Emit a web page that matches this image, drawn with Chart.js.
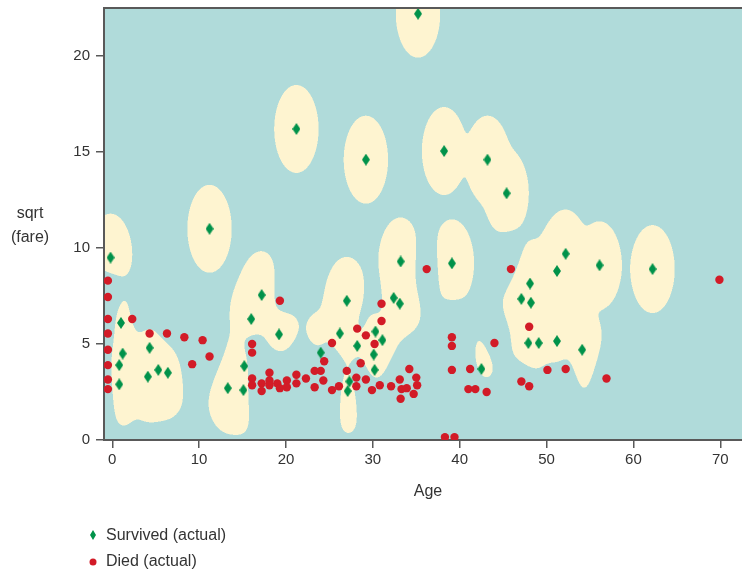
<!DOCTYPE html>
<html>
<head>
<meta charset="utf-8">
<script src="https://cdn.jsdelivr.net/npm/chart.js@4.4.1/dist/chart.umd.min.js"></script>
<style>
  html, body { margin: 0; padding: 0; background: #fff; overflow: hidden; }
</style>
</head>
<body>
<canvas id="chart" width="742" height="572"></canvas>
<script>
// passengers that survived: age, sqrt(fare)
const survivedAge = [-0.2, 11.2, 21.2, 1.0, 1.2, 0.8, 0.8, 4.3, 4.1, 5.3, 6.4,
  17.2, 16.0, 19.2, 15.2, 13.3, 15.1, 27.0, 26.2, 24.0, 28.2, 27.3, 27.1,
  33.2, 32.4, 33.1, 30.3, 31.1, 30.1, 30.2, 39.1, 42.5, 35.2, 29.2, 38.2, 43.2, 45.4,
  52.2, 56.1, 51.2, 48.1, 47.1, 48.2, 47.9, 49.1, 51.2, 54.1, 62.2];
const survivedFare = [9.5, 11.0, 16.2, 6.1, 4.5, 3.9, 2.9, 4.8, 3.3, 3.65, 3.5,
  7.55, 6.3, 5.5, 3.85, 2.7, 2.6, 7.25, 5.55, 4.55, 4.9, 3.05, 2.55,
  9.3, 7.4, 7.1, 5.65, 5.2, 4.45, 3.65, 9.2, 3.7, 22.2, 14.6, 15.05, 14.6, 12.85,
  9.7, 9.1, 8.8, 8.15, 7.35, 7.15, 5.05, 5.05, 5.15, 4.7, 8.9];

// passengers that died
const diedAge = [-0.5, -0.5, -0.5, -0.5, -0.5, -0.5, -0.5, -0.5,
  2.3, 4.3, 6.3, 8.3, 10.4, 11.2, 9.2,
  19.3, 16.1, 16.1, 16.1, 16.1, 17.2, 17.2, 18.1, 18.1, 18.1, 19.0, 19.3, 20.1, 20.1, 21.2, 21.2, 22.3, 23.3, 23.3,
  24.0, 24.3, 24.4, 25.3, 25.3, 26.1, 27.0, 28.2, 29.2, 30.2, 31.0, 31.0, 28.6, 28.1, 28.1, 29.2, 29.9, 30.8,
  32.1, 33.1, 33.3, 33.2, 33.9, 34.2, 35.0, 35.1, 34.7, 36.2, 39.1, 39.1, 39.1, 38.3, 39.4,
  41.2, 41.0, 41.8, 43.1, 44.0, 45.9, 48.0, 50.1, 52.2, 47.1, 48.0, 56.9, 69.9];
const diedFare = [8.3, 7.45, 6.3, 5.55, 4.7, 3.9, 3.15, 2.65,
  6.3, 5.55, 5.55, 5.35, 5.2, 4.35, 3.95,
  7.25, 5.0, 4.55, 3.2, 2.85, 2.95, 2.55, 3.5, 3.1, 2.85, 2.95, 2.7, 3.1, 2.75, 3.4, 2.95, 3.2, 3.6, 2.75,
  3.6, 3.1, 4.1, 5.05, 2.6, 2.8, 3.6, 5.8, 5.45, 5.0, 7.1, 6.2, 4.0, 3.25, 2.8, 3.15, 2.6, 2.85,
  2.8, 3.15, 2.65, 2.15, 2.7, 3.7, 3.25, 2.85, 2.4, 8.9, 5.35, 4.9, 3.65, 0.15, 0.15,
  3.7, 2.65, 2.65, 2.5, 5.05, 8.9, 5.9, 3.65, 3.7, 3.05, 2.8, 3.2, 8.35];

const xTicks = [0, 10, 20, 30, 40, 50, 60, 70];
const yTicks = [0, 5, 10, 15, 20];

// kernel classifier used for the shaded "survived" regions
const KX = 1.45, KY = 1.3, DIED_W = 0.5, THRESH = 0.045;

const TEAL = '#b0dbda', CREAM = [254, 244, 208];
const GREEN = '#00924a', RED = '#d21b27', AXIS = '#595959', TEXT = '#333333';
const FONT = '"Liberation Sans", Arial, sans-serif';

function diamond(w, h, color) {
  const c = document.createElement('canvas');
  c.width = w; c.height = h;
  const g = c.getContext('2d');
  g.fillStyle = color;
  g.beginPath();
  g.moveTo(w / 2, 0); g.lineTo(w, h / 2); g.lineTo(w / 2, h); g.lineTo(0, h / 2);
  g.closePath(); g.fill();
  return c;
}
const diamondPt = diamond(8, 12, GREEN);
const diamondLegend = diamond(6, 10, GREEN);

let regionCache = null;
function buildRegions(chart) {
  const a = chart.chartArea, xs = chart.scales.x, ys = chart.scales.y;
  const S = 2;
  const w = Math.round(a.right - a.left) * S, h = Math.round(a.bottom - a.top) * S;
  const ns = survivedAge.length, nd = diedAge.length;
  // separable gaussian: precompute per column / per row factors
  const colS = new Float32Array(w * ns), colD = new Float32Array(w * nd);
  for (let i = 0; i < w; i++) {
    const ax = xs.getValueForPixel(a.left + (i + 0.5) / S);
    for (let k = 0; k < ns; k++) { const d = (ax - survivedAge[k]) / KX; colS[i * ns + k] = Math.exp(-d * d); }
    for (let k = 0; k < nd; k++) { const d = (ax - diedAge[k]) / KX; colD[i * nd + k] = Math.exp(-d * d) * DIED_W; }
  }
  const rowS = new Float32Array(ns), rowD = new Float32Array(nd);
  const off = document.createElement('canvas');
  off.width = w; off.height = h;
  const g = off.getContext('2d');
  const img = g.createImageData(w, h);
  for (let j = 0; j < h; j++) {
    const fy = ys.getValueForPixel(a.top + (j + 0.5) / S);
    for (let k = 0; k < ns; k++) { const d = (fy - survivedFare[k]) / KY; rowS[k] = Math.exp(-d * d); }
    for (let k = 0; k < nd; k++) { const d = (fy - diedFare[k]) / KY; rowD[k] = Math.exp(-d * d); }
    for (let i = 0; i < w; i++) {
      let f = -THRESH;
      const bs = i * ns, bd = i * nd;
      for (let k = 0; k < ns; k++) f += colS[bs + k] * rowS[k];
      for (let k = 0; k < nd; k++) f -= colD[bd + k] * rowD[k];
      if (f > 0) {
        const p = (j * w + i) * 4;
        img.data[p] = CREAM[0]; img.data[p + 1] = CREAM[1]; img.data[p + 2] = CREAM[2]; img.data[p + 3] = 255;
      }
    }
  }
  g.putImageData(img, 0, 0);
  return off;
}

const decorPlugin = {
  id: 'decor',
  beforeDraw(chart) {
    const { ctx, chartArea: a } = chart;
    ctx.save();
    ctx.fillStyle = TEAL;
    ctx.fillRect(a.left, a.top, a.right - a.left, a.bottom - a.top);
    if (!regionCache) regionCache = buildRegions(chart);
    ctx.imageSmoothingEnabled = true;
    ctx.imageSmoothingQuality = 'high';
    ctx.drawImage(regionCache, a.left, a.top, a.right - a.left, a.bottom - a.top);
    ctx.restore();
  },
  afterDraw(chart) {
    const { ctx, chartArea: a } = chart;
    ctx.save();
    // top frame line
    ctx.strokeStyle = AXIS;
    ctx.lineWidth = 2;
    ctx.beginPath();
    ctx.moveTo(a.left - 1, a.top);
    ctx.lineTo(a.right, a.top);
    ctx.stroke();

    ctx.fillStyle = TEXT;
    ctx.font = '16px ' + FONT;
    ctx.textAlign = 'center';
    ctx.textBaseline = 'middle';
    ctx.fillText('sqrt', 30, 214);
    ctx.fillText('(fare)', 30, 238);
    ctx.fillText('Age', 428, 492);

    // legend
    ctx.textAlign = 'left';
    ctx.drawImage(diamondLegend, 93 - 3, 535 - 5);
    ctx.fillText('Survived (actual)', 106, 536);
    ctx.fillStyle = RED;
    ctx.beginPath();
    ctx.arc(93, 562, 3.5, 0, Math.PI * 2);
    ctx.fill();
    ctx.fillStyle = TEXT;
    ctx.fillText('Died (actual)', 106, 562);
    ctx.restore();
  }
};

const toPoints = (xs, ys) => xs.map((v, i) => ({ x: v, y: ys[i] }));

new Chart(document.getElementById('chart'), {
  type: 'scatter',
  data: {
    datasets: [
      {
        label: 'Died (actual)',
        data: toPoints(diedAge, diedFare),
        pointStyle: 'circle',
        pointRadius: 4.2,
        pointHoverRadius: 4.2,
        backgroundColor: RED,
        borderWidth: 0
      },
      {
        label: 'Survived (actual)',
        data: toPoints(survivedAge, survivedFare),
        pointStyle: diamondPt,
        pointRadius: 5,
        backgroundColor: GREEN,
        borderWidth: 0
      }
    ]
  },
  options: {
    responsive: false,
    animation: false,
    events: [],
    layout: { autoPadding: false, padding: { top: 8, right: 0, bottom: 0, left: 0 } },
    plugins: {
      legend: { display: false },
      tooltip: { enabled: false }
    },
    scales: {
      x: {
        type: 'linear',
        min: -0.95,
        max: 72.5,
        afterBuildTicks: s => { s.ticks = xTicks.map(v => ({ value: v })); },
        afterFit: s => { s.height = 132; s.paddingLeft = 0; s.paddingRight = 0; },
        grid: { drawOnChartArea: false, color: AXIS, lineWidth: 1.5, tickLength: 8 },
        border: { color: AXIS, width: 2 },
        ticks: { color: TEXT, font: { family: FONT, size: 15 }, padding: 3, maxRotation: 0 }
      },
      y: {
        type: 'linear',
        min: 0,
        max: 22.5,
        afterBuildTicks: s => { s.ticks = yTicks.map(v => ({ value: v })); },
        afterFit: s => { s.width = 104; s.paddingTop = 0; s.paddingBottom = 0; },
        grid: { drawOnChartArea: false, color: AXIS, lineWidth: 1.5, tickLength: 8 },
        border: { color: AXIS, width: 2 },
        ticks: { color: TEXT, font: { family: FONT, size: 15 }, padding: 6 }
      }
    }
  },
  plugins: [decorPlugin]
});
</script>
</body>
</html>
